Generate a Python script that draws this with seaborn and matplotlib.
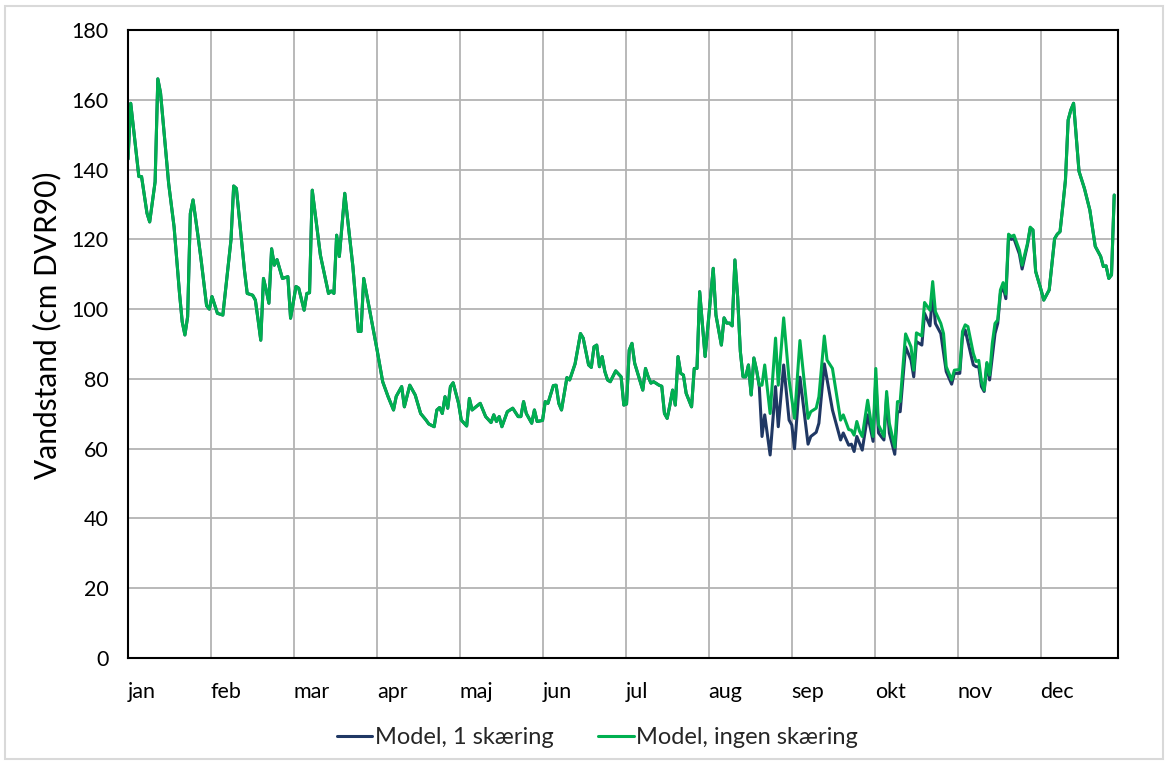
import numpy as np
import pandas as pd
import matplotlib
matplotlib.use("Agg")
import matplotlib.pyplot as plt
import seaborn as sns

# Daily water level (cm DVR90), day index 0 = 1 January
green_day = [0, 1, 4, 5, 7, 8, 10, 11, 12, 15, 17, 19, 20, 21, 22, 23, 24, 26, 27, 29,
             30, 31, 33, 35, 38, 39, 40, 43, 44, 46, 47, 48, 49, 50, 51, 52, 53, 54, 55, 57,
             59, 60, 62, 63, 65, 66, 67, 68, 71, 74, 75, 76, 77, 78, 80, 83, 85, 86, 87, 90,
             92, 94, 96, 98, 99, 101, 102, 104, 106, 108, 110, 111, 113, 114, 115, 116, 117, 118, 119, 120,
             122, 123, 125, 126, 127, 130, 132, 134, 135, 136, 137, 138, 140, 142, 144, 145, 146, 147, 149, 150,
             151, 153, 154, 155, 157, 158, 159, 160, 162, 163, 165, 167, 168, 170, 171, 172, 173, 174, 175, 176,
             177, 178, 180, 182, 183, 184, 185, 186, 187, 190, 191, 192, 193, 194, 196, 197, 198, 199, 200, 201,
             202, 203, 204, 205, 206, 208, 209, 210, 211, 213, 216, 217, 219, 220, 221, 222, 223, 224, 225, 226,
             227, 228, 229, 230, 231, 232, 233, 234, 235, 237, 239, 240, 242, 244, 246, 248, 251, 252, 254, 255,
             257, 258, 260, 263, 264, 266, 267, 268, 269, 270, 271, 273, 275, 276, 277, 279, 280, 281, 283, 284,
             285, 287, 289, 290, 291, 293, 294, 296, 297, 298, 300, 301, 302, 304, 305, 307, 308, 309, 310, 312,
             313, 314, 315, 316, 317, 318, 319, 320, 321, 322, 323, 324, 325, 326, 327, 329, 330, 332, 333, 334,
             335, 337, 338, 340, 342, 343, 344, 345, 346, 347, 348, 349, 351, 353, 355, 357, 359, 360, 361, 362,
             363, 364]
green_val = [143, 159, 138, 138, 127.5, 125, 136.5, 166, 162, 136, 123.6, 104.6, 96.4, 92.6, 97.8, 127.4, 131.3, 120, 114, 101,
             100, 103.6, 98.8, 98.3, 119.8, 135.3, 134.6, 111, 104.5, 104, 102.6, 97, 91.1, 108.8, 105.5, 101.7, 117.3, 112.6, 114.2, 108.8,
             109.3, 97.4, 106.5, 106, 99.7, 104.5, 104.7, 134.1, 115.5, 104.5, 105.2, 104.5, 121.2, 115.1, 133.2, 112.2, 93.6, 93.6, 108.8, 96.4,
             88, 79.2, 74.9, 71.1, 75, 77.8, 72, 78.2, 75.4, 70.1, 68.2, 67.1, 66.3, 71.1, 71.8, 70.1, 74.9, 71.6, 77.8, 78.9,
             73, 68.2, 66.5, 74.4, 71.1, 73, 69.2, 67.5, 69.7, 67.8, 69.2, 66.3, 70.6, 71.6, 69.2, 69.2, 73.5, 70.1, 67.3, 71.1,
             67.8, 68.1, 73.5, 73, 78.1, 78.2, 73, 71.1, 80.4, 79.7, 84.3, 93, 91.7, 84, 83.3, 89.2, 89.7, 83.5, 86.4, 82.1,
             79.7, 79.2, 82.3, 80.6, 72.5, 72.8, 88.3, 90.2, 84.5, 76.8, 83, 80.6, 78.8, 79.2, 78.2, 77.9, 70.1, 68.7, 72.5, 76.8,
             72.5, 86.4, 81.6, 81.1, 75.9, 72, 83, 83, 105, 86.4, 111.7, 98.3, 89.7, 97.5, 96, 96, 95.2, 114.1, 103.6, 87.9,
             80.6, 80.6, 84, 75.4, 86, 82.5, 78.2, 78.2, 84, 70.1, 91.7, 78.2, 97.5, 79.7, 68.7, 91, 68.7, 70.6, 71.6, 74.9,
             92.3, 85.4, 83, 68.2, 69.7, 65.5, 65.3, 63.9, 67.8, 65, 63.5, 73.9, 63.5, 83, 66.8, 63.5, 76.4, 67.3, 60.4, 73.5,
             73.5, 92.9, 89.2, 82.5, 93.2, 92.3, 101.9, 99.7, 107.9, 99.3, 95.9, 93, 83.5, 79.7, 82.5, 82.7, 93.6, 95.5, 95, 87.3,
             85, 85.3, 79.2, 76.8, 84.7, 81.1, 90.2, 95.9, 96.9, 105.5, 107.6, 104.3, 121.5, 120.8, 121.2, 116.9, 112.6, 118.9, 123.5, 122.7,
             110.8, 105.5, 102.6, 105.5, 120.2, 121.5, 122.2, 129.4, 137, 154.2, 157.1, 159, 139.5, 134.6, 128.4, 118, 115.1, 112.2, 112.4, 108.8,
             109.8, 132.7]

# With one cut the level departs from the uncut run between late August and late November
cut_day = [233, 234, 235, 237, 239, 240, 242, 244, 245, 246, 248, 251, 252, 254, 255, 257, 260, 263, 264, 266,
           267, 268, 269, 271, 273, 275, 276, 277, 279, 280, 281, 283, 284, 285, 287, 289, 290, 291, 293, 294,
           296, 297, 298, 300, 302, 304, 305, 307, 308, 309, 312, 313, 314, 315, 316, 317, 318, 320, 321, 322,
           323, 324, 325, 326, 327, 329, 330, 332, 333]
cut_val = [77.8, 63.5, 69.7, 58.2, 77.8, 66.3, 84, 68.2, 66.8, 60, 80.5, 61.3, 63.5, 64.7, 67.3, 84.3, 71.1, 62.5, 64.5, 61,
           61.3, 59.2, 63.5, 59.6, 69.7, 62.1, 79.7, 64.5, 62.5, 74.9, 64.5, 58.4, 70.6, 70.6, 89.2, 85.4, 80.6, 90.7, 89.7, 98.8,
           95.2, 104.5, 95.9, 93, 82.1, 78.5, 81.6, 81.6, 92.1, 94, 84, 83.5, 83.5, 77.8, 76.4, 84.4, 79.7, 93, 95.9, 104.5,
           106.5, 103, 120.5, 120, 120.2, 115.8, 111.5, 118.5, 123.2]

months = ["jan", "feb", "mar", "apr", "maj", "jun", "jul", "aug", "sep", "okt", "nov", "dec"]
series_names = ["Model, 1 skæring", "Model, ingen skæring"]
colors = ["#203864", "#00B050"]

# Long-form table: the cut run shares the uncut values outside its own window
green = pd.DataFrame({"dag": green_day, "vandstand": green_val})
outside = green[(green["dag"] < cut_day[0]) | (green["dag"] > cut_day[-1])]
blue = pd.concat([outside, pd.DataFrame({"dag": cut_day, "vandstand": cut_val})]).sort_values("dag")
blue["serie"] = series_names[0]
green["serie"] = series_names[1]
df = pd.concat([blue, green], ignore_index=True)

sns.set_theme(style="white")
plt.rcParams["font.family"] = ["Lato", "DejaVu Sans"]

fig = plt.figure(figsize=(11.68, 7.64), dpi=100)
ax = fig.add_axes([0.1096, 0.1387, 0.8476, 0.822])

sns.lineplot(data=df, x="dag", y="vandstand", hue="serie", hue_order=series_names,
             palette=colors, linewidth=2.2, ax=ax, sort=False, estimator=None)

ax.set_xlim(0, 365.4)
ax.set_ylim(0, 180)
ax.set_yticks(np.arange(0, 181, 20))
month_pos = np.arange(12) * 30.62
ax.set_xticks(month_pos)
ax.set_xticklabels(months, ha="left")
ax.grid(True, color="#b3b3b3", linewidth=1.3)
ax.set_axisbelow(True)
for s in ax.spines.values():
    s.set_color("black")
    s.set_linewidth(1.5)
ax.tick_params(axis="both", direction="out", length=5, width=1.5, color="black",
               labelsize=15.5, labelcolor="black")
ax.tick_params(axis="y", pad=9)
ax.tick_params(axis="x", pad=12)

ax.set_xlabel("")
ax.set_ylabel("Vandstand (cm DVR90)", fontsize=21.5, color="black")
ax.yaxis.set_label_coords(-0.067, 0.53)

leg = ax.legend(loc="center", bbox_to_anchor=(0.474, -0.127), ncol=2, frameon=False,
                fontsize=17, handlelength=1.5, handletextpad=0.1, columnspacing=1.9)
for line in leg.get_lines():
    line.set_linewidth(2.2)

# light frame around the whole chart area
fig.patches.append(plt.Rectangle((0.004, 0.006), 0.992, 0.986, transform=fig.transFigure,
                                 fill=False, edgecolor="#d9d9d9", linewidth=1.5))

fig.savefig("out.png", dpi=100)
